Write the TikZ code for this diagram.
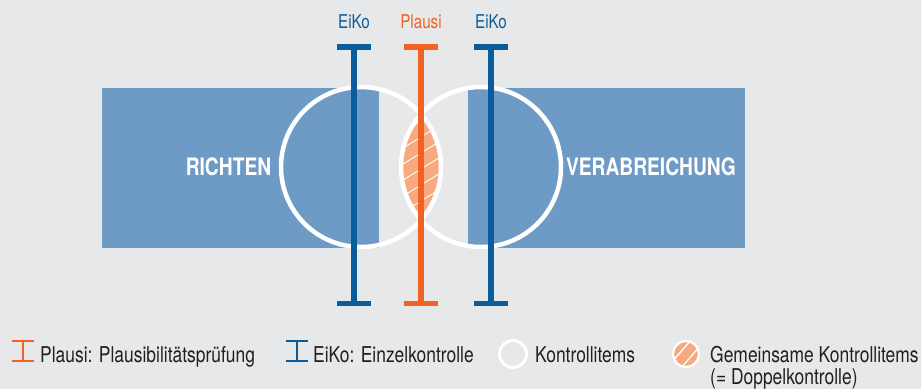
\documentclass[tikz,border=0pt]{standalone}
\usepackage{fontspec}
\setmainfont{TeX Gyre Heros}[FakeStretch=0.8]
\definecolor{bg}{HTML}{E7E8EA}
\definecolor{area}{HTML}{6D9BC6}
\definecolor{eiko}{HTML}{0B5C9B}
\definecolor{plausi}{HTML}{F26224}
\definecolor{lens}{HTML}{F7AA7F}
\definecolor{ink}{HTML}{231F20}
\tikzset{
  ring/.style={draw=white, line width=4.5pt},
  hatchline/.style={white, line width=0.9pt},
  tbar/.pic={
    \draw[line width=5.4pt] (0,47) -- (0,303.5);
    \draw[line width=6pt] (-17,46.5) -- (17,46.5);
    \draw[line width=5pt] (-17,303.5) -- (17,303.5);
  },
  ibar/.pic={
    \draw[line width=2.6pt] (0,341) -- (0,361);
    \draw[line width=2.6pt] (-11,341) -- (11,341);
    \draw[line width=2.6pt] (-11,361) -- (11,361);
  },
  toplabel/.style={anchor=base, inner sep=0pt, font=\fontsize{19}{22}\selectfont},
  phase/.style={text=white, font=\fontsize{24}{28}\selectfont\bfseries},
  legend/.style={text=ink, anchor=base west, inner sep=0pt, font=\fontsize{21.8}{25}\selectfont}
}
\begin{document}
\begin{tikzpicture}[x=1pt, y=-1pt]
\fill[bg] (0,0) rectangle (921,389);
\useasboundingbox (0,0) rectangle (921,389);

% the two process areas
\fill[area] (102,88) rectangle (379,247.5);
\fill[area] (468,88) rectangle (745,247.5);

% shared control items: hatched lens between the circles
\begin{scope}
  \clip (361,167) circle (80);
  \clip (481,167) circle (80);
  \fill[lens] (395,80) rectangle (450,255);
  \foreach \k in {-3,...,3}
    \draw[hatchline] (391,169+\k*16+18.6) -- (451,169+\k*16-18.6);
\end{scope}

% control item circles
\draw[ring] (361,167) circle (80);
\draw[ring] (481,167) circle (80);

% phase names
\node[phase] (richten) at (228.5,167) {RICHTEN};
\node[phase] (verab) at (651,167) {VERABREICHUNG};

% check bars
\pic[color=eiko] at (354,0) {tbar};
\pic[color=plausi] at (421,0) {tbar};
\pic[color=eiko] at (491,0) {tbar};
\node[toplabel, text=eiko] (e1) at (354,28) {EiKo};
\node[toplabel, text=plausi] (p1) at (421,28) {Plausi};
\node[toplabel, text=eiko] (e2) at (491,28) {EiKo};

% legend
\pic[color=plausi] at (23,0) {ibar};
\node[legend] (lp) at (40,362) {Plausi: Plausibilitätsprüfung};
\pic[color=eiko] at (297,0) {ibar};
\node[legend] (le) at (313,362) {EiKo: Einzelkontrolle};
\draw[white, line width=3pt] (513,354) circle (13.5);
\node[legend] (lk) at (535,362) {Kontrollitems};
\fill[lens] (686,354) circle (13);
\begin{scope}
  \clip (686,354) circle (13);
  \draw[white, line width=1.3pt] (672,362) -- (691,340);
  \draw[white, line width=1.3pt] (681,368) -- (700,346);
\end{scope}
\draw[white, line width=2.2pt] (686,354) circle (13);
\node[legend] (lg) at (710,362) {Gemeinsame Kontrollitems};
\node[legend] (lg2) at (710,384.5) {(= Doppelkontrolle)};
\end{tikzpicture}
\end{document}
